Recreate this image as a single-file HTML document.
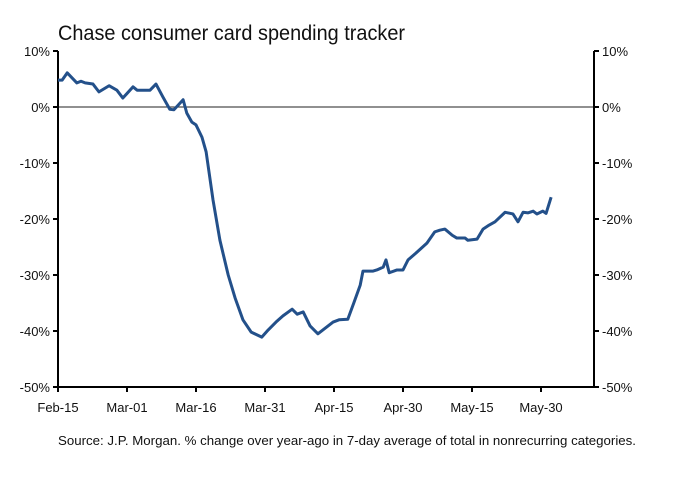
<!DOCTYPE html>
<html><head><meta charset="utf-8"><style>
body{margin:0;background:#fff;width:680px;height:478px;overflow:hidden;font-family:"Liberation Sans",sans-serif}
svg text{font-family:"Liberation Sans",sans-serif;fill:#111}
</style></head><body>
<svg id="c" width="680" height="478">
<text x="58" y="40" font-size="21" textLength="347" lengthAdjust="spacingAndGlyphs">Chase consumer card spending tracker</text>
<text x="58" y="445" font-size="13" textLength="578" lengthAdjust="spacingAndGlyphs">Source: J.P. Morgan. % change over year-ago in 7-day average of total in nonrecurring categories.</text>
</svg>
<script>
const days=[0,0.9,2,4.1,5,5.9,7.6,8.9,11.1,12.8,14.1,16.3,17.2,20,21.3,22.8,24.3,25.2,27.2,28,29.1,30,31.3,32.2,33.7,35.2,37,38.5,40.2,42,44.3,45.7,47.4,48.9,50.9,52,53.3,54.8,56.5,59.8,61.1,63,64.3,65.7,66.3,68.5,69.3,70.7,71.3,72,73.7,75,76.1,77.8,80.2,81.9,83,84.1,85.7,86.7,88.5,89.1,91.1,92.4,93.7,95,97.2,98.9,100,101.1,102.2,103.3,104.1,105.4,106.1,107.2];
const values=[4.8,4.8,6.1,4.3,4.6,4.3,4.1,2.7,3.8,3.0,1.6,3.6,3.0,3.0,4.1,1.8,-0.4,-0.5,1.3,-1.1,-2.7,-3.2,-5.4,-8.0,-16.6,-23.8,-30.0,-34.1,-38.0,-40.2,-41.1,-39.8,-38.4,-37.3,-36.1,-37.0,-36.6,-39.1,-40.5,-38.4,-38.0,-37.9,-35.0,-31.8,-29.3,-29.3,-29.1,-28.6,-27.3,-29.6,-29.1,-29.1,-27.3,-26.1,-24.3,-22.3,-22.0,-21.8,-22.9,-23.4,-23.4,-23.8,-23.6,-21.8,-21.1,-20.5,-18.8,-19.1,-20.5,-18.8,-18.9,-18.6,-19.1,-18.6,-19.0,-16.1];
const yTicks=[10,0,-10,-20,-30,-40,-50];
const xTickLabels=["Feb-15","Mar-01","Mar-16","Mar-31","Apr-15","Apr-30","May-15","May-30"];
const xTickDays=[0,15,30,45,60,75,90,105];
const X=d=>58+d*4.6, Y=v=>107-v*5.6;
const svg=document.getElementById('c'),NS='http://www.w3.org/2000/svg';
function mk(t,a){const e=document.createElementNS(NS,t);for(const k in a)e.setAttribute(k,a[k]);svg.appendChild(e);return e;}
let e;
e=mk('line',{x1:58,x2:594,y1:Y(0),y2:Y(0),stroke:'#222','stroke-width':1});


e=mk('line',{x1:58,x2:58,y1:Y(10),y2:Y(-50),stroke:'#000','stroke-width':2});


e=mk('line',{x1:594,x2:594,y1:Y(10),y2:Y(-50),stroke:'#000','stroke-width':2});


e=mk('line',{x1:58,x2:594,y1:Y(-50),y2:Y(-50),stroke:'#000','stroke-width':2});


yTicks.forEach(v=>{
 let t=mk('line',{x1:53,x2:58,y1:Y(v),y2:Y(v),stroke:'#000','stroke-width':2});
 
 
 t=mk('line',{x1:594,x2:599,y1:Y(v),y2:Y(v),stroke:'#000','stroke-width':2});
 
 
 let l=mk('text',{x:50,y:Y(v)+5,'font-size':13,'text-anchor':'end'});l.textContent=v+'%';
 
 
 l=mk('text',{x:602,y:Y(v)+5,'font-size':13});l.textContent=v+'%';
 
 
});
xTickDays.forEach((d,i)=>{
 let t=mk('line',{x1:X(d),x2:X(d),y1:Y(-50),y2:Y(-50)+5,stroke:'#000','stroke-width':2});
 
 
 let l=mk('text',{x:X(d),y:412,'font-size':13,'text-anchor':'middle'});l.textContent=xTickLabels[i];
 
 
});
const p=mk('polyline',{points:days.map((d,i)=>X(d)+','+Y(values[i])).join(' '),fill:'none',stroke:'#23508a','stroke-width':3,'stroke-linejoin':'round'});


</script>
</body></html>
